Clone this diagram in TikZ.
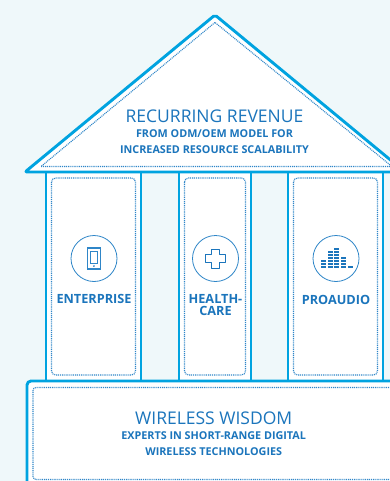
\documentclass[tikz,border=0pt]{standalone}
\usepackage{fontspec}
\setmainfont{Open Sans}
\usepackage{tikz}
\usetikzlibrary{
  calc
  , positioning
}
\definecolor{pagebg}{HTML}{EFF8FA}
\definecolor{wallblue}{HTML}{00A3E0}
\definecolor{inkblue}{HTML}{1B75BC}
\definecolor{dotblue}{HTML}{2F86C8}
\tikzset{
  thickwall/.style={draw=wallblue, line width=2.9pt, fill=white, line join=round},
  thinwall/.style={draw=wallblue, line width=1.5pt, fill=white},
  dotline/.style={draw=dotblue, line width=1.1pt, dash pattern=on 1pt off 0.9pt},
  headtext/.style={text=inkblue, inner sep=0pt, font=\fontsize{17.5}{20}\selectfont},
  subtext/.style={text=inkblue, inner sep=0pt, font=\fontsize{10.8}{12}\selectfont\bfseries},
  pillartext/.style={text=inkblue, inner sep=0pt, align=center, font=\fontsize{12.7}{12}\selectfont\bfseries},
  iconring/.style={circle, draw=dotblue, line width=0.8pt, minimum size=46pt, inner sep=0pt},
}
\begin{document}
\begin{tikzpicture}[x=1pt,y=-1pt]
  \useasboundingbox (0,0) rectangle (390,481);
  \clip (0,0) rectangle (390,481);
  \fill [pagebg] (0,0) rectangle (390,481);

  % pillars
  \foreach \xl/\xr in {46/141, 179/251, 288/383}{
    \draw [thinwall] (\xl,170) rectangle (\xr,383);
    \draw [dotline, rounded corners=4pt] (\xl+5.5,178) rectangle (\xr-5.5,375);
  }

  % roof
  \coordinate (apex) at (215,15);
  \coordinate (eaveL) at (25,172);
  \coordinate (eaveR) at (405,172);
  \draw [thickwall, rounded corners=2pt] (eaveL) -- (apex) -- (eaveR) -- cycle;
  \draw [dotline] (215,22.5) -- (41,166.5) -- (392,166.5) -- cycle;

  % base
  \draw [thickwall, rounded corners=4pt] (27,500) -- (27,381) -- (410,381) -- (410,500) -- cycle;
  \draw [dotline, rounded corners=3pt] (33,479.5) -- (33,387.5) -- (400,387.5) -- (400,479.5) -- cycle;

  \node [headtext] (roofhead) at (214.5,116) {RECURRING REVENUE};
  \node [subtext] (roofsub) at (214.5,134) {FROM ODM/OEM MODEL FOR};
  \node [subtext] (roofsubb) at (214.5,150) {INCREASED RESOURCE SCALABILITY};

  \node [headtext] (basehead) at (213.7,418) {WIRELESS WISDOM};
  \node [subtext] (basesub) at (213.7,436) {EXPERTS IN SHORT-RANGE DIGITAL};
  \node [subtext] (basesubb) at (213.7,452) {WIRELESS TECHNOLOGIES};

  % icons
  \node [iconring] (ringphone) at (94,258.5) {};
  \node [iconring] (ringcross) at (215.5,258.5) {};
  \node [iconring] (ringaudio) at (336,258.5) {};

  \draw [draw=dotblue, line width=1.1pt] (87.2,248) rectangle (100.5,269);
  \draw [draw=dotblue, line width=1pt] (90.3,251.5) rectangle (97.4,263);
  \fill [inkblue] (93.9,266) circle (0.9pt);

  \draw [draw=inkblue, line width=1.2pt, line join=round]
    (211.5,249.5) -- (219.5,249.5) -- (219.5,254.5) -- (225.5,254.5) -- (225.5,262.5)
    -- (219.5,262.5) -- (219.5,268.5) -- (211.5,268.5) -- (211.5,262.5) -- (205.5,262.5)
    -- (205.5,254.5) -- (211.5,254.5) -- cycle;

  \foreach \xbar/\nbar in {321/3, 327.7/6, 334/7, 341/4, 347.5/1}{
    \foreach \k in {1,...,\nbar}{
      \fill [inkblue] (\xbar,268-3*\k+1.2) rectangle ++(5.2,1.8);
    }
  }

  \node [pillartext] (labelent) at (94,298.5) {ENTERPRISE};
  \node [pillartext] (labelhealth) at (215.5,305) {HEALTH-\\CARE};
  \node [pillartext] (labelaudio) at (336,299.5) {PROAUDIO};
\end{tikzpicture}
\end{document}
